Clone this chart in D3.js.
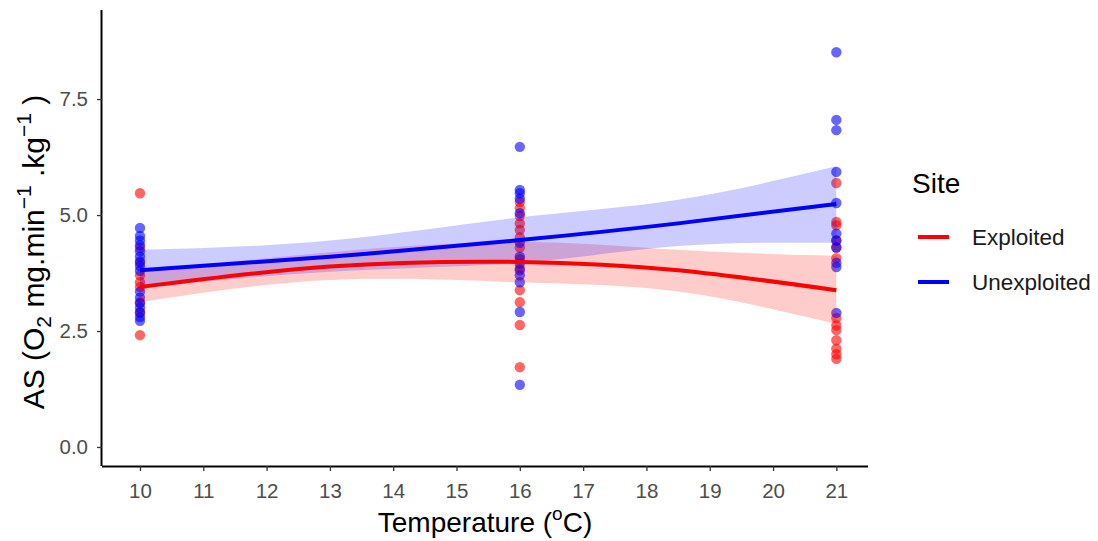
<!DOCTYPE html>
<html><head><meta charset="utf-8">
<script src="https://cdn.jsdelivr.net/npm/d3@7"></script>
<style>body{margin:0;background:#fff}svg{display:block}text{font-family:"Liberation Sans",Arial,sans-serif}</style>
</head><body>
<svg id="c" width="1098" height="541"></svg>
<script>
const xTicks = [10,11,12,13,14,15,16,17,18,19,20,21];
const yTicks = [0,2.5,5,7.5];
const sites = ["Exploited","Unexploited"];
const colors = ["#ff0000","#0000ff"];

// observed AS values at each temperature
const exploited10 = [5.47,4.29,3.97,3.70,3.55,3.45,3.12,2.90,2.41];
const exploited16 = [5.28,5.15,4.98,4.82,4.68,4.52,4.30,4.05,3.85,3.38,3.12,2.63,1.72];
const exploited21 = [5.69,4.85,4.78,4.45,4.30,4.07,2.78,2.62,2.52,2.30,2.12,2.00,1.90];
const unexploited10 = [4.72,4.55,4.45,4.35,4.22,4.10,4.00,3.90,3.80,3.35,3.22,3.10,3.00,2.90,2.80,2.72];
const unexploited16 = [6.47,5.54,5.47,5.35,5.04,4.40,4.10,3.95,3.81,3.70,3.55,2.91,1.34];
const unexploited21 = [8.51,7.05,6.83,5.93,5.26,4.60,4.45,4.30,3.97,3.88,2.89];

// smooth fits
const fitTemps = [10,13,16,18.5,21];
const exploitedFit = [3.45,3.89,3.99,3.81,3.38];
const exploitedLo  = [3.12,3.60,3.55,3.35,2.65];
const exploitedHi  = [3.78,4.20,4.42,4.25,4.12];
const unexploitedFit = [3.81,4.10,4.46,4.82,5.24];
const unexploitedLo  = [3.42,3.78,3.97,4.33,4.40];
const unexploitedHi  = [4.25,4.45,4.95,5.33,6.05];

const svg = d3.select("#c");
const L = 102, R = 868, T = 10, B = 466;
const x = d3.scaleLinear().domain([9.4,21.5]).range([L,R]);
const y = d3.scaleLinear().domain([-0.41,9.42]).range([B,T]);

const pts = [];
[[exploited10,10,0],[exploited16,16,0],[exploited21,21,0],
 [unexploited10,10,1],[unexploited16,16,1],[unexploited21,21,1]].forEach(([arr,t,s])=>{
  arr.forEach(v=>pts.push({t,v,s}));
});
pts.sort((a,b)=>a.s-b.s);

svg.append("g").selectAll("circle").data(pts).join("circle")
  .attr("cx",d=>x(d.t)).attr("cy",d=>y(d.v)).attr("r",5.2)
  .attr("fill",d=>colors[d.s]).attr("fill-opacity",0.6);

const fits = [
  {fit:exploitedFit,lo:exploitedLo,hi:exploitedHi,c:0},
  {fit:unexploitedFit,lo:unexploitedLo,hi:unexploitedHi,c:1}
];
const area = d3.area().curve(d3.curveNatural)
  .x((d,i)=>x(fitTemps[i])).y0(d=>y(d[0])).y1(d=>y(d[1]));
const line = d3.line().curve(d3.curveNatural)
  .x((d,i)=>x(fitTemps[i])).y(d=>y(d));
fits.forEach(f=>{
  svg.append("path").datum(f.lo.map((v,i)=>[v,f.hi[i]]))
    .attr("d",area).attr("fill",colors[f.c]).attr("fill-opacity",0.2);
});
fits.forEach(f=>{
  svg.append("path").datum(f.fit).attr("d",line)
    .attr("fill","none").attr("stroke",colors[f.c]).attr("stroke-width",4);
});

// axes
const xa = svg.append("g").attr("transform",`translate(0,${B})`)
  .call(d3.axisBottom(x).tickValues(xTicks).tickSize(5).tickPadding(12).tickFormat(d3.format("d")));
const ya = svg.append("g").attr("transform",`translate(${L},0)`)
  .call(d3.axisLeft(y).tickValues(yTicks).tickSize(5).tickPadding(9).tickFormat(d3.format(".1f")));
[xa,ya].forEach(a=>{
  a.select(".domain").attr("stroke","#000").attr("stroke-width",2);
  a.selectAll(".tick line").attr("stroke","#333").attr("stroke-width",1.3);
  a.selectAll(".tick text").attr("fill","#4d4d4d").style("font-size","20.5px");
});
xa.select(".domain").attr("d",`M${L},0.5H${R}`);
ya.select(".domain").attr("d",`M-0.5,${B}V${T}`);

// axis titles
const xt = svg.append("text").attr("x",(L+R)/2).attr("y",532).attr("text-anchor","middle")
  .style("font-size","28px").attr("fill","#000");
xt.append("tspan").text("Temperature (");
xt.append("tspan").text("o").attr("dy",-12).style("font-size","19px");
xt.append("tspan").text("C)").attr("dy",12);

const yt = svg.append("text").attr("transform",`translate(44,252) rotate(-90)`)
  .attr("text-anchor","middle").style("font-size","30px").attr("fill","#000");
yt.append("tspan").text("AS (O");
yt.append("tspan").text("2").attr("dy",7).style("font-size","21px");
yt.append("tspan").text(" mg.min").attr("dy",-7);
yt.append("tspan").text("−1").attr("dy",-13).style("font-size","21px");
yt.append("tspan").text(" .kg").attr("dy",13);
yt.append("tspan").text("−1").attr("dy",-13).style("font-size","21px");
yt.append("tspan").text(" )").attr("dy",13);

// legend
svg.append("text").attr("x",912).attr("y",193).text("Site").style("font-size","28px").attr("fill","#000");
sites.forEach((s,i)=>{
  const yy = 237 + i*45;
  svg.append("line").attr("x1",918).attr("x2",949).attr("y1",yy).attr("y2",yy)
    .attr("stroke",colors[i]).attr("stroke-width",4);
  svg.append("text").attr("x",972).attr("y",yy+8).text(s).style("font-size","22.5px").attr("fill","#1a1a1a");
});
</script>
</body></html>
